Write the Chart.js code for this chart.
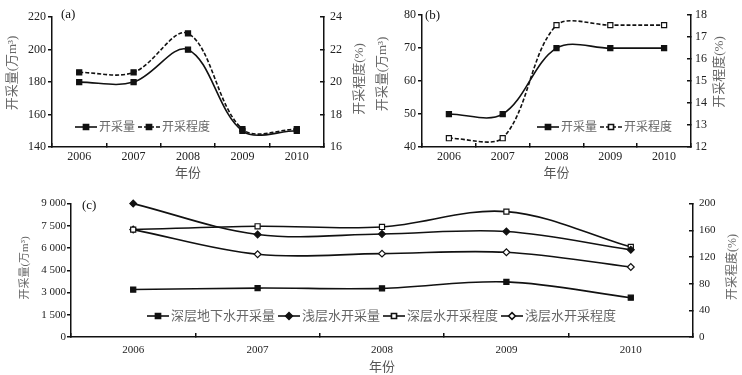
<!DOCTYPE html>
<html>
<head>
<meta charset="utf-8">
<script src="https://cdn.jsdelivr.net/npm/chart.js@4.4.1/dist/chart.umd.min.js"></script>
<style>
  body { margin: 0; background: #fff; width: 742px; height: 375px; position: relative; overflow: hidden; }
  .box { position: absolute; }
</style>
</head>
<body>
<div class="box" style="left:0;top:0;width:370px;height:187px"><canvas id="chart-a"></canvas></div>
<div class="box" style="left:370px;top:0;width:372px;height:187px"><canvas id="chart-b"></canvas></div>
<div class="box" style="left:0;top:187px;width:742px;height:188px"><canvas id="chart-c"></canvas></div>
<script>
const years = ["2006", "2007", "2008", "2009", "2010"];

// (a)
const aVolume = [180, 180, 200, 150, 150];
const aDegree = [20.6, 20.6, 23.0, 17.1, 17.1];

// (b)
const bVolume = [50, 50, 70, 70, 70];
const bDegree = [12.4, 12.4, 17.55, 17.55, 17.55];

// (c)
const deepVolume = [3200, 3300, 3280, 3720, 2650];
const shallowVolume = [9000, 6920, 6950, 7120, 5880];
const deepDegree = [161, 166, 165, 188, 135];
const shallowDegree = [161, 124, 125, 127, 105];

const FONT = "'Liberation Serif', 'Noto Sans CJK SC', serif";
const INK = "#111";

Chart.defaults.font.family = FONT;
Chart.defaults.color = "#222";
Chart.defaults.animation = false;

// legend drawn inside the plot, plus panel label and rotated axis titles
const extras = {
    id: "extras",
    afterDraw(chart, args, opts) {
        const ctx = chart.ctx;
        ctx.save();
        // panel label
        ctx.fillStyle = "#111";
        ctx.font = opts.labelSize + "px " + FONT;
        ctx.textAlign = "left";
        ctx.textBaseline = "middle";
        ctx.fillText(opts.label, opts.labelX, opts.labelY);

        // y titles, both read bottom to top
        ctx.fillStyle = "#666";
        ctx.textAlign = "center";
        opts.titles.forEach(t => {
            ctx.save();
            ctx.font = t.size + "px " + FONT;
            ctx.translate(t.x, t.y);
            ctx.rotate(-Math.PI / 2);
            ctx.fillText(t.text, 0, 0);
            ctx.restore();
        });

        // legend
        let x = opts.legendX;
        const y = opts.legendY;
        ctx.font = opts.legendSize + "px " + FONT;
        chart.data.datasets.forEach(ds => {
            ctx.strokeStyle = INK;
            ctx.lineWidth = ds.borderWidth;
            ctx.setLineDash(ds.borderDash || []);
            ctx.beginPath();
            ctx.moveTo(x, y);
            ctx.lineTo(x + opts.sample, y);
            ctx.stroke();
            ctx.setLineDash([]);
            ctx.fillStyle = ds.pointBackgroundColor;
            ctx.strokeStyle = INK;
            Chart.helpers.drawPoint(ctx, {
                pointStyle: ds.pointStyle,
                radius: ds.pointRadius,
                rotation: 0,
                borderWidth: ds.pointBorderWidth
            }, x + opts.sample / 2, y);
            x += opts.sample + 2;
            ctx.fillStyle = "#666";
            ctx.textAlign = "left";
            ctx.fillText(ds.label, x, y + 1);
            x += ctx.measureText(ds.label).width + 3;
        });
        ctx.restore();
    }
};

function series(label, data, axis, style, dashed, fill) {
    return {
        label: label,
        data: data,
        yAxisID: axis,
        clip: false,
        borderColor: INK,
        borderWidth: 1.6,
        borderDash: dashed ? [4, 2] : [],
        pointStyle: style,
        pointRadius: style === "rect" ? 3.6 : 3.4,
        pointBorderWidth: 1.2,
        pointBorderColor: INK,
        pointBackgroundColor: fill,
        tension: 0.35
    };
}

function axes(p) {
    return {
        x: {
            offset: true,
            grid: { offset: true, drawOnChartArea: false, tickLength: -4, color: INK, lineWidth: 1.5 },
            border: { color: INK, width: 1.5 },
            ticks: { padding: p.xPad, font: { size: p.xSize }, maxRotation: 0 },
            title: { display: true, text: "年份", font: { size: 13 }, color: "#555", padding: { top: 0, bottom: p.titlePad } },
            afterFit: s => { s.height = p.bottom; }
        },
        y: {
            position: "left",
            min: p.yMin, max: p.yMax,
            ticks: { stepSize: p.yStep, padding: p.yPad, font: { size: p.ySize }, callback: p.yFormat },
            grid: { drawOnChartArea: false, tickLength: 4, color: INK, lineWidth: 1.5 },
            border: { color: INK, width: 1.5 },
            afterFit: s => { s.width = p.left; }
        },
        y1: {
            position: "right",
            min: p.rMin, max: p.rMax,
            ticks: { stepSize: p.rStep, padding: p.rPad, font: { size: p.ySize } },
            grid: { drawOnChartArea: false, tickLength: -4, color: INK, lineWidth: 1.5 },
            border: { color: INK, width: 1.5 },
            afterFit: s => { s.width = p.right; }
        }
    };
}

// (a)
new Chart(document.getElementById("chart-a"), {
    type: "line",
    data: {
        labels: years,
        datasets: [
            series("开采量", aVolume, "y", "rect", false, INK),
            series("开采程度", aDegree, "y1", "rect", true, INK)
        ]
    },
    options: {
        responsive: true,
        maintainAspectRatio: false,
        layout: { padding: { top: 13, left: 0, right: 0, bottom: 0 } },
        scales: axes({ bottom: 40, left: 52, right: 46, xPad: 7, xSize: 12, titlePad: 6,
            yMin: 140, yMax: 220, yStep: 20, yPad: 2, ySize: 12,
            rMin: 16, rMax: 24, rStep: 2, rPad: 10 }),
        plugins: {
            legend: { display: false },
            tooltip: { enabled: false },
            extras: {
                label: "(a)", labelX: 61, labelY: 15, labelSize: 13,
                titles: [
                    { text: "开采量(万m³)", x: 13, y: 73, size: 13 },
                    { text: "开采程度(%)", x: 360, y: 79, size: 13 }
                ],
                legendX: 75, legendY: 127, legendSize: 12, sample: 22
            }
        }
    },
    plugins: [extras]
});

// (b)
new Chart(document.getElementById("chart-b"), {
    type: "line",
    data: {
        labels: years,
        datasets: [
            series("开采量", bVolume, "y", "rect", false, INK),
            series("开采程度", bDegree, "y1", "rect", true, "#fff")
        ]
    },
    options: {
        responsive: true,
        maintainAspectRatio: false,
        layout: { padding: { top: 12, left: 0, right: 0, bottom: 0 } },
        scales: axes({ bottom: 40, left: 52, right: 51, xPad: 7, xSize: 12, titlePad: 6,
            yMin: 40, yMax: 80, yStep: 10, yPad: 2, ySize: 12,
            rMin: 12, rMax: 18, rStep: 1, rPad: 8 }),
        plugins: {
            legend: { display: false },
            tooltip: { enabled: false },
            extras: {
                label: "(b)", labelX: 55, labelY: 16, labelSize: 13,
                titles: [
                    { text: "开采量(万m³)", x: 13, y: 74, size: 13 },
                    { text: "开采程度(%)", x: 350, y: 72, size: 13 }
                ],
                legendX: 167, legendY: 127, legendSize: 12, sample: 22
            }
        }
    },
    plugins: [extras]
});

// (c)
new Chart(document.getElementById("chart-c"), {
    type: "line",
    data: {
        labels: years,
        datasets: [
            series("深层地下水开采量", deepVolume, "y", "rect", false, INK),
            series("浅层水开采量", shallowVolume, "y", "rectRot", false, INK),
            series("深层水开采程度", deepDegree, "y1", "rect", false, "#fff"),
            series("浅层水开采程度", shallowDegree, "y1", "rectRot", false, "#fff")
        ]
    },
    options: {
        responsive: true,
        maintainAspectRatio: false,
        layout: { padding: { top: 15, left: 0, right: 0, bottom: 0 } },
        scales: axes({ bottom: 38, left: 71, right: 49, xPad: 11, xSize: 11, titlePad: 0,
            yMin: 0, yMax: 9000, yStep: 1500, yPad: 1, ySize: 11,
            yFormat: v => v >= 1000 ? Math.floor(v / 1000) + " " + String(v % 1000).padStart(3, "0") : v,
            rMin: 0, rMax: 200, rStep: 40, rPad: 10 }),
        plugins: {
            legend: { display: false },
            tooltip: { enabled: false },
            extras: {
                label: "(c)", labelX: 82, labelY: 19, labelSize: 13,
                titles: [
                    { text: "开采量(万m³)", x: 25, y: 81, size: 11 },
                    { text: "开采程度(%)", x: 733, y: 80, size: 12 }
                ],
                legendX: 147, legendY: 129, legendSize: 13, sample: 22
            }
        }
    },
    plugins: [extras]
});
</script>
</body>
</html>
